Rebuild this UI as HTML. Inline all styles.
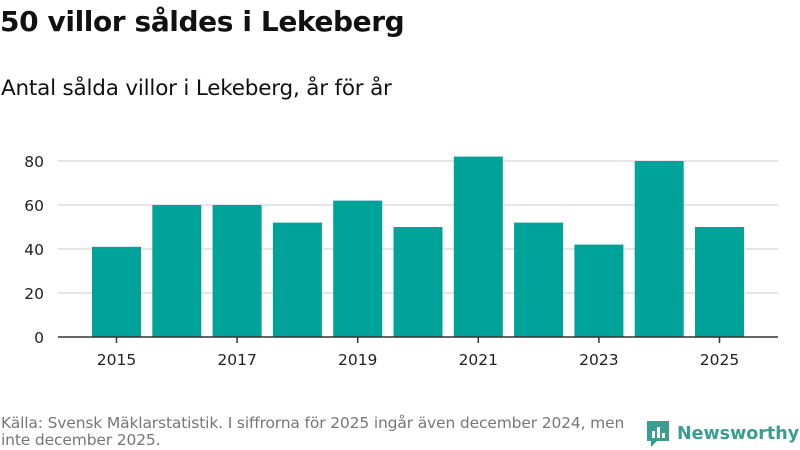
<!DOCTYPE html>
<html><head><meta charset="utf-8"><style>
body{margin:0;width:800px;height:450px;background:#fff;font-family:"DejaVu Sans","Liberation Sans",sans-serif;overflow:hidden;position:relative}
#title{position:absolute;left:0px;top:5px;font-size:28px;font-weight:bold;color:#111;letter-spacing:-0.4px}
#sub{position:absolute;left:1px;top:76px;font-size:21.5px;color:#111;letter-spacing:-0.2px}
#foot{position:absolute;left:1px;top:415px;font-size:15.5px;color:#777;line-height:17px;width:660px;letter-spacing:-0.15px}
#logo{position:absolute;left:645px;top:419px;display:flex;align-items:center;gap:6px;color:#3a9d8f;font-size:17.5px;font-weight:bold}
</style></head><body>
<div id="title">50 villor såldes i Lekeberg</div>
<div id="sub">Antal sålda villor i Lekeberg, år för år</div>
<svg id="chart" width="800" height="450" style="position:absolute;left:0;top:0"></svg>
<div id="foot">Källa: Svensk Mäklarstatistik. I siffrorna för 2025 ingår även december 2024, men<br>inte december 2025.</div>
<div id="logo"><svg width="26" height="30" viewBox="0 0 26 30"><path d="M2 2h22v20H12l-6 6v-6H2z" fill="#3a9d8f"/><rect x="7" y="12" width="3" height="7" fill="#fff"/><rect x="12" y="8" width="3" height="11" fill="#fff"/><rect x="17" y="14" width="3" height="5" fill="#fff"/></svg><span>Newsworthy</span></div>
<script>
const years=[2015,2016,2017,2018,2019,2020,2021,2022,2023,2024,2025];
const sales=[41,60,60,52,62,50,82,52,42,80,50];
const yTicks=[0,20,40,60,80];
const xTickLabels=[2015,2017,2019,2021,2023,2025];
const NS="http://www.w3.org/2000/svg";
const svg=document.getElementById('chart');
const x0=116.5,step=60.3,bw=49;
const xs=i=>x0+i*step;
const ys=v=>337-v*2.2;
function mk(t,a){const e=document.createElementNS(NS,t);for(const k in a)e.setAttribute(k,a[k]);svg.appendChild(e);return e;}
yTicks.forEach(v=>{
 if(v>0){const g=mk('line',{x1:58,x2:778,y1:ys(v),y2:ys(v),stroke:'#ddd','stroke-width':1.5});
 
 }
 const t=mk('text',{x:44,y:ys(v)+6,'text-anchor':'end','font-size':15.5,fill:'#222'});t.textContent=v;
 
 
});
sales.forEach((v,i)=>{
 const r=mk('rect',{x:xs(i)-bw/2,y:ys(v),width:bw,height:337-ys(v),fill:'#00a399'});
 
 
});
const ax=mk('line',{x1:58,x2:778,y1:337,y2:337,stroke:'#333','stroke-width':1.5});


xTickLabels.forEach(y=>{
 const i=years.indexOf(y);
 const tk=mk('line',{x1:xs(i),x2:xs(i),y1:337,y2:343,stroke:'#333','stroke-width':1.5});
 
 
 const t=mk('text',{x:xs(i),y:365,'text-anchor':'middle','font-size':15.5,fill:'#222'});t.textContent=y;
 
 
});
</script>
</body></html>
